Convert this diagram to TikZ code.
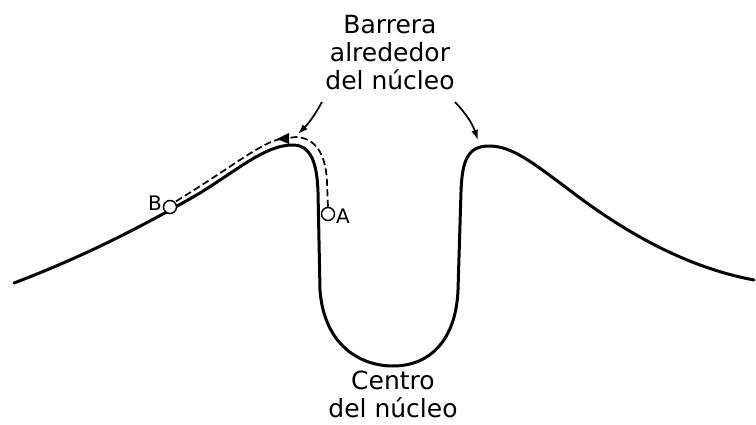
\documentclass[tikz,border=0pt]{standalone}
\usepackage{fontspec}
\setmainfont{DejaVu Sans}
\usetikzlibrary{arrows.meta}
\begin{document}
\begin{tikzpicture}[x=1pt,y=-1pt,
  curve/.style={line width=3pt,line cap=round,line join=round},
  path dash/.style={line width=1.7pt,dash pattern=on 7pt off 3.5pt},
  ball/.style={circle,draw,line width=1.5pt,fill=white,minimum size=13pt,inner sep=0pt},
  lbl/.style={font=\fontsize{20}{22}\selectfont,inner sep=0pt},
  bigtext/.style={font=\fontsize{25}{28}\selectfont,align=center,inner sep=0pt},
  pointer/.style={line width=1.7pt,-{Latex[length=10pt,width=7pt]}}]
\useasboundingbox (0,0) rectangle (756,425);
% potential curve
\draw[curve] (14,283) .. controls (80,258) and (140,228) .. (200,193)
  .. controls (240,168) and (265,146) .. (291,145)
  .. controls (312,144) and (317,165) .. (318,192)
  -- (320,290) .. controls (324,345) and (360,366) .. (393,366)
  .. controls (430,366) and (456,340) .. (458,290)
  -- (461,192) .. controls (462,160) and (468,146) .. (489,146)
  .. controls (512,146) and (532,162) .. (572,192)
  .. controls (630,236) and (690,268) .. (754,280);
% labels and pointers
\node[bigtext] (barrera) at (390,53) {Barrera\\alrededor\\del núcleo};
\node[bigtext] (centro) at (393,394) {Centro\\del núcleo};
\coordinate (lt) at (298,134);
\coordinate (rt) at (478,140);
\draw[pointer] (322,102) to[bend left=8] (lt);
\draw[pointer] (455,102) to[bend left=12] (rt);
% particle path
\node[ball] (A) at (328,214) {};
\node[ball] (B) at (170,207) {};
\node[lbl,anchor=west] (Alab) at (336,216) {A};
\node[lbl,anchor=east] (Blab) at (162,203) {B};
\coordinate (top) at (281,139);
\draw[path dash] (A.north) -- (327,182) .. controls (326,155) and (316,138) .. (296,137) -- (top);
\draw[path dash] (top) .. controls (262,142) and (235,165) .. (B.north east);
\fill (top) ++(-4,0) -- ++(12,-6) -- ++(0,11) -- cycle;
\end{tikzpicture}
\end{document}
